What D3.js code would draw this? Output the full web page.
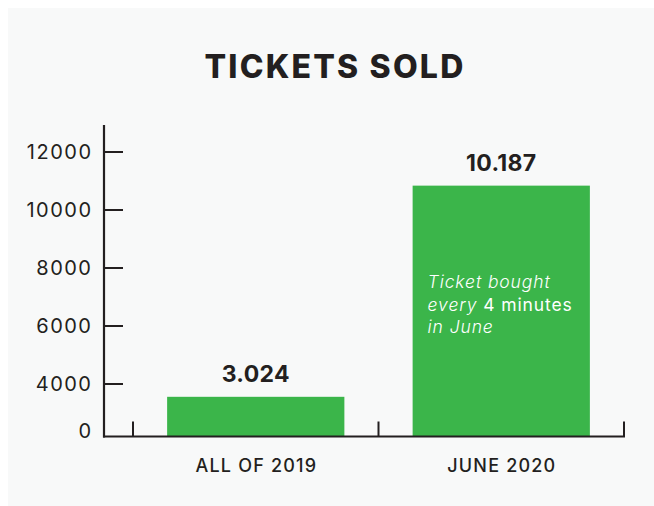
<!DOCTYPE html>
<html>
<head>
<meta charset="utf-8">
<script src="https://cdn.jsdelivr.net/npm/d3@7"></script>
<style>
  html, body { margin: 0; padding: 0; background: #ffffff; }
  svg { display: block; }
  text { font-family: Inter, "Open Sans", "DejaVu Sans", sans-serif; }
</style>
</head>
<body>
<script>
// ---- data ----
const categories = ["ALL OF 2019", "JUNE 2020"];
const ticketValues = [3024, 10840];          // bar heights as read against the axis
const valueLabels = ["3.024", "10.187"];     // printed labels
const yTicks = [0, 4000, 6000, 8000, 10000, 12000];
const yTickLabels = ["0", "4000", "6000", "8000", "10000", "12000"];
const title = "TICKETS SOLD";
const noteLines = [
  [{t: "Ticket bought", it: true}],
  [{t: "every ", it: true}, {t: "4 minutes", it: false}],
  [{t: "in June", it: true}]
];

// ---- layout ----
const W = 654, H = 506;
const ink = "#231f20", green = "#3bb54a", panel = "#f8f9f9";

const svg = d3.select("body").append("svg").attr("width", W).attr("height", H);
svg.append("rect").attr("x", 8).attr("y", 8).attr("width", W - 8).attr("height", H - 8).attr("fill", panel);

// piecewise y scale (the original axis is compressed between 0 and 4000)
const y = d3.scaleLinear().domain([0, 4000, 12000]).range([436.5, 384, 152]);
const x = d3.scaleBand().domain(categories).range([133, 624]).padding(0);
const barW = x.bandwidth() * 0.722;

// title
svg.append("text").attr("x", 335).attr("y", 78).attr("text-anchor", "middle")
  .attr("font-size", 32).attr("font-weight", 800).attr("fill", ink)
  .attr("letter-spacing", 2.2).text(title);

// bars
svg.selectAll("rect.bar").data(categories).join("rect").attr("class", "bar")
  .attr("x", d => x(d) + (x.bandwidth() - barW) / 2)
  .attr("width", barW)
  .attr("y", (d, i) => y(ticketValues[i]))
  .attr("height", (d, i) => y(0) - y(ticketValues[i]))
  .attr("fill", green);

// value labels
svg.selectAll("text.val").data(categories).join("text").attr("class", "val")
  .attr("x", d => x(d) + x.bandwidth() / 2)
  .attr("y", (d, i) => y(ticketValues[i]) - 15)
  .attr("text-anchor", "middle").attr("font-size", 23).attr("font-weight", 700)
  .attr("letter-spacing", 0.3)
  .attr("fill", ink).text((d, i) => valueLabels[i]);

// category labels
svg.selectAll("text.cat").data(categories).join("text").attr("class", "cat")
  .attr("x", d => x(d) + x.bandwidth() / 2 + 0.6)
  .attr("y", 472).attr("text-anchor", "middle").attr("font-size", 18).attr("font-weight", 500)
  .attr("letter-spacing", 1.2)
  .attr("fill", ink).text(d => d);

// y axis
const axisG = svg.append("g");
axisG.append("line").attr("x1", 104).attr("x2", 104).attr("y1", 125).attr("y2", y(0) + 1)
  .attr("stroke", ink).attr("stroke-width", 2.2);
axisG.selectAll("line.yt").data(yTicks.filter(v => v > 0)).join("line").attr("class", "yt")
  .attr("x1", 104).attr("x2", 123).attr("y1", d => y(d)).attr("y2", d => y(d))
  .attr("stroke", ink).attr("stroke-width", 2);
axisG.selectAll("text.yl").data(yTicks).join("text").attr("class", "yl")
  .attr("x", 92.5).attr("y", d => d === 0 ? y(d) - 6 : y(d))
  .attr("dy", "0.36em").attr("text-anchor", "end").attr("font-size", 20).attr("font-weight", 400)
  .attr("letter-spacing", 1.5)
  .attr("fill", ink).text((d, i) => yTickLabels[i]);

// baseline with band ticks
axisG.append("line").attr("x1", 103).attr("x2", 625).attr("y1", y(0)).attr("y2", y(0))
  .attr("stroke", ink).attr("stroke-width", 2.2);
const bandEdges = categories.map(c => x(c)).concat([x(categories[categories.length - 1]) + x.bandwidth()]);
axisG.selectAll("line.bt").data(bandEdges).join("line").attr("class", "bt")
  .attr("x1", d => d).attr("x2", d => d).attr("y1", y(0) - 15).attr("y2", y(0))
  .attr("stroke", ink).attr("stroke-width", 2);

// note inside the big bar
const bx = x(categories[1]) + (x.bandwidth() - barW) / 2 + 15;
const note = svg.append("g");
noteLines.forEach((line, i) => {
  const t = note.append("text").attr("x", bx).attr("y", 288 + i * 22.5)
    .attr("font-size", 17.5).attr("letter-spacing", 0.9).attr("fill", "#ffffff");
  line.forEach(s => t.append("tspan")
    .attr("font-style", s.it ? "italic" : "normal")
    .attr("font-weight", s.it ? 300 : 400).text(s.t));
});
</script>
</body>
</html>
